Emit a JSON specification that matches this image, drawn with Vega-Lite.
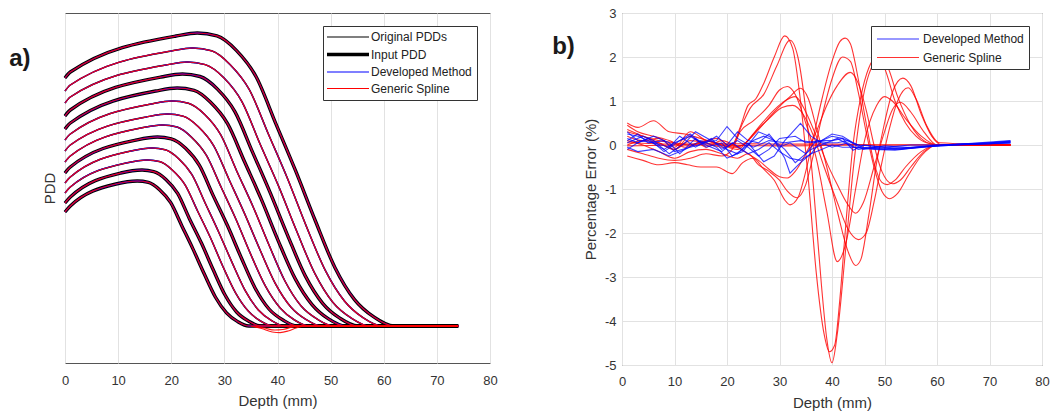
{
  "$schema": "https://vega.github.io/schema/vega-lite/v6.json",
  "background": "white",
  "padding": {"left": 8, "top": 6, "right": 0, "bottom": 0},
  "spacing": 53,
  "config": {
    "font": "Liberation Sans",
    "view": {"stroke": "#555555", "strokeWidth": 1},
    "axis": {"labelFontSize": 13, "titleFontSize": 15, "labelColor": "#333333", "titleColor": "#333333", "gridColor": "#e2e2e2", "domain": false, "ticks": false, "titleFontWeight": "normal", "labelFlush": false, "labelOverlap": false},
    "legend": {"labelFontSize": 12, "labelColor": "#222222", "strokeColor": "#333333", "fillColor": "white", "padding": 5, "symbolType": "M-3,0H3", "symbolSize": 196, "symbolOffset": 14, "symbolStrokeWidth": 1.2, "labelOffset": 17, "rowPadding": 4.5, "orient": "top-right", "offset": 13}
  },
  "datasets": {
    "pdd": [
      {"c":0,"d":0,"v":151},{"c":0,"d":1,"v":157},{"c":0,"d":9.6,"v":179},{"c":0,"d":13.6,"v":182},{"c":0,"d":15.7,"v":180.6},{"c":0,"d":17.8,"v":173.3},{"c":0,"d":19.9,"v":160.3},{"c":0,"d":22,"v":137.1},{"c":0,"d":24.1,"v":113.9},{"c":0,"d":26.2,"v":89.2},{"c":0,"d":28.3,"v":66},{"c":0,"d":30.4,"v":50.1},{"c":0,"d":32.5,"v":41.4},{"c":0,"d":34.6,"v":37},{"c":0,"d":74,"v":37},
      {"c":1,"d":0,"v":160},{"c":1,"d":1,"v":166},{"c":1,"d":10.5,"v":190},{"c":1,"d":14.5,"v":193},{"c":1,"d":16.7,"v":191.4},{"c":1,"d":19,"v":183.6},{"c":1,"d":21.2,"v":169.6},{"c":1,"d":23.4,"v":144.6},{"c":1,"d":25.7,"v":119.7},{"c":1,"d":27.9,"v":93.2},{"c":1,"d":30.1,"v":68.2},{"c":1,"d":32.3,"v":51},{"c":1,"d":34.6,"v":41.7},{"c":1,"d":36.8,"v":37},{"c":1,"d":74,"v":37},
      {"c":2,"d":0,"v":170},{"c":2,"d":1,"v":176},{"c":2,"d":11.5,"v":200},{"c":2,"d":15.5,"v":203},{"c":2,"d":17.9,"v":201.3},{"c":2,"d":20.2,"v":193},{"c":2,"d":22.6,"v":178.1},{"c":2,"d":25,"v":151.5},{"c":2,"d":27.4,"v":125},{"c":2,"d":29.7,"v":96.8},{"c":2,"d":32.1,"v":70.2},{"c":2,"d":34.5,"v":51.9},{"c":2,"d":36.8,"v":42},{"c":2,"d":39.2,"v":37},{"c":2,"d":74,"v":37},
      {"c":3,"d":0,"v":180},{"c":3,"d":1,"v":186},{"c":3,"d":12.4,"v":212},{"c":3,"d":16.4,"v":215},{"c":3,"d":18.9,"v":213.2},{"c":3,"d":21.4,"v":204.3},{"c":3,"d":23.9,"v":188.3},{"c":3,"d":26.4,"v":159.8},{"c":3,"d":28.9,"v":131.3},{"c":3,"d":31.4,"v":101.1},{"c":3,"d":33.9,"v":72.6},{"c":3,"d":36.4,"v":53},{"c":3,"d":38.9,"v":42.3},{"c":3,"d":41.4,"v":37},{"c":3,"d":74,"v":37},
      {"c":4,"d":0,"v":190},{"c":4,"d":1,"v":196},{"c":4,"d":13.4,"v":223},{"c":4,"d":17.4,"v":226},{"c":4,"d":20,"v":224.1},{"c":4,"d":22.7,"v":214.7},{"c":4,"d":25.3,"v":197.6},{"c":4,"d":27.9,"v":167.4},{"c":4,"d":30.6,"v":137.2},{"c":4,"d":33.2,"v":105},{"c":4,"d":35.8,"v":74.8},{"c":4,"d":38.4,"v":54},{"c":4,"d":41.1,"v":42.7},{"c":4,"d":43.7,"v":37},{"c":4,"d":74,"v":37},
      {"c":5,"d":0,"v":201},{"c":5,"d":1,"v":207},{"c":5,"d":14.3,"v":235},{"c":5,"d":18.3,"v":238},{"c":5,"d":21.1,"v":236},{"c":5,"d":23.8,"v":225.9},{"c":5,"d":26.6,"v":207.8},{"c":5,"d":29.4,"v":175.7},{"c":5,"d":32.2,"v":143.5},{"c":5,"d":34.9,"v":109.4},{"c":5,"d":37.7,"v":77.2},{"c":5,"d":40.5,"v":55.1},{"c":5,"d":43.2,"v":43},{"c":5,"d":46,"v":37},{"c":5,"d":74,"v":37},
      {"c":6,"d":0,"v":212},{"c":6,"d":1,"v":218},{"c":6,"d":15.3,"v":246},{"c":6,"d":19.3,"v":249},{"c":6,"d":22.2,"v":246.9},{"c":6,"d":25.1,"v":236.3},{"c":6,"d":28,"v":217.2},{"c":6,"d":30.9,"v":183.3},{"c":6,"d":33.8,"v":149.4},{"c":6,"d":36.7,"v":113.3},{"c":6,"d":39.6,"v":79.4},{"c":6,"d":42.5,"v":56.1},{"c":6,"d":45.4,"v":43.4},{"c":6,"d":48.3,"v":37},{"c":6,"d":74,"v":37},
      {"c":7,"d":0,"v":223},{"c":7,"d":1,"v":229},{"c":7,"d":16.2,"v":259},{"c":7,"d":20.2,"v":262},{"c":7,"d":23.2,"v":259.8},{"c":7,"d":26.3,"v":248.5},{"c":7,"d":29.3,"v":228.3},{"c":7,"d":32.3,"v":192.3},{"c":7,"d":35.4,"v":156.3},{"c":7,"d":38.4,"v":118},{"c":7,"d":41.4,"v":82},{"c":7,"d":44.4,"v":57.3},{"c":7,"d":47.5,"v":43.8},{"c":7,"d":50.5,"v":37},{"c":7,"d":74,"v":37},
      {"c":8,"d":0,"v":234},{"c":8,"d":1,"v":240},{"c":8,"d":17.1,"v":272},{"c":8,"d":21.1,"v":275},{"c":8,"d":24.3,"v":272.6},{"c":8,"d":27.4,"v":260.7},{"c":8,"d":30.6,"v":239.3},{"c":8,"d":33.8,"v":201.2},{"c":8,"d":37,"v":163.1},{"c":8,"d":40.1,"v":122.7},{"c":8,"d":43.3,"v":84.6},{"c":8,"d":46.5,"v":58.4},{"c":8,"d":49.6,"v":44.1},{"c":8,"d":52.8,"v":37},{"c":8,"d":74,"v":37},
      {"c":9,"d":0,"v":247},{"c":9,"d":1,"v":253},{"c":9,"d":18.1,"v":286},{"c":9,"d":22.1,"v":289},{"c":9,"d":25.4,"v":286.5},{"c":9,"d":28.7,"v":273.9},{"c":9,"d":32,"v":251.2},{"c":9,"d":35.3,"v":210.9},{"c":9,"d":38.6,"v":170.6},{"c":9,"d":41.9,"v":127.7},{"c":9,"d":45.2,"v":87.4},{"c":9,"d":48.5,"v":59.7},{"c":9,"d":51.8,"v":44.6},{"c":9,"d":55.1,"v":37},{"c":9,"d":74,"v":37},
      {"c":10,"d":0,"v":260},{"c":10,"d":1,"v":266},{"c":10,"d":19,"v":298},{"c":10,"d":23,"v":301},{"c":10,"d":26.4,"v":298.4},{"c":10,"d":29.9,"v":285.2},{"c":10,"d":33.3,"v":261.4},{"c":10,"d":36.7,"v":219.2},{"c":10,"d":40.2,"v":176.9},{"c":10,"d":43.6,"v":132},{"c":10,"d":47,"v":89.8},{"c":10,"d":50.4,"v":60.8},{"c":10,"d":53.9,"v":44.9},{"c":10,"d":57.3,"v":37},{"c":10,"d":74,"v":37},
      {"c":11,"d":0,"v":272},{"c":11,"d":1,"v":278},{"c":11,"d":20,"v":312},{"c":11,"d":24,"v":315},{"c":11,"d":27.6,"v":312.2},{"c":11,"d":31.1,"v":298.3},{"c":11,"d":34.7,"v":273.3},{"c":11,"d":38.3,"v":228.8},{"c":11,"d":41.9,"v":184.3},{"c":11,"d":45.4,"v":137.1},{"c":11,"d":49,"v":92.6},{"c":11,"d":52.6,"v":62},{"c":11,"d":56.1,"v":45.3},{"c":11,"d":59.7,"v":37},{"c":11,"d":74,"v":37},
      {"c":12,"d":0,"v":285},{"c":12,"d":1,"v":291},{"c":12,"d":20.9,"v":327},{"c":12,"d":24.9,"v":330},{"c":12,"d":28.6,"v":327.1},{"c":12,"d":32.3,"v":312.4},{"c":12,"d":36,"v":286},{"c":12,"d":39.7,"v":239.2},{"c":12,"d":43.4,"v":192.3},{"c":12,"d":47.1,"v":142.5},{"c":12,"d":50.8,"v":95.6},{"c":12,"d":54.5,"v":63.4},{"c":12,"d":58.2,"v":45.8},{"c":12,"d":61.9,"v":37},{"c":12,"d":74,"v":37}
    ],
    "dip": [
      {"c":1,"d":35,"v":37},{"c":1,"d":37,"v":34.5},{"c":1,"d":39,"v":31},{"c":1,"d":40.5,"v":30.4},{"c":1,"d":42,"v":32},{"c":1,"d":43.5,"v":35},{"c":1,"d":45,"v":37},
      {"c":2,"d":35.5,"v":37},{"c":2,"d":37.5,"v":35},{"c":2,"d":39.5,"v":33},{"c":2,"d":41,"v":33.5},{"c":2,"d":42.5,"v":35.5},{"c":2,"d":44,"v":37}
    ],
    "red": [
      {"c":0,"d":1,"e":0.05},{"c":0,"d":10,"e":0.02},{"c":0,"d":20,"e":0.03},{"c":0,"d":30,"e":0.02},{"c":0,"d":40,"e":0.02},{"c":0,"d":50,"e":0},{"c":0,"d":60,"e":0},{"c":0,"d":74,"e":0},
      {"c":10,"d":1,"e":-0.02},{"c":10,"d":15,"e":0},{"c":10,"d":30,"e":-0.02},{"c":10,"d":45,"e":0},{"c":10,"d":74,"e":0.01},
      {"c":1,"d":1,"e":0.35},{"c":1,"d":4,"e":0.2},{"c":1,"d":7,"e":0.05},{"c":1,"d":10,"e":-0.1},{"c":1,"d":13,"e":0.1},{"c":1,"d":16,"e":0.05},{"c":1,"d":19,"e":-0.05},{"c":1,"d":21,"e":0},{"c":1,"d":22.5,"e":0.4},{"c":1,"d":24,"e":0.9},{"c":1,"d":25.5,"e":1.05},{"c":1,"d":27,"e":1.4},{"c":1,"d":29,"e":2.0},{"c":1,"d":31,"e":2.48},{"c":1,"d":32.5,"e":2.2},{"c":1,"d":34,"e":1.0},{"c":1,"d":35.5,"e":-0.8},{"c":1,"d":37,"e":-2.9},{"c":1,"d":38.5,"e":-4.3},{"c":1,"d":39.5,"e":-4.7},{"c":1,"d":40.5,"e":-4.55},{"c":1,"d":41.5,"e":-3.5},{"c":1,"d":42.5,"e":-2.0},{"c":1,"d":44,"e":0},{"c":1,"d":45.5,"e":1.1},{"c":1,"d":47,"e":1.75},{"c":1,"d":48.5,"e":2.0},{"c":1,"d":50,"e":1.75},{"c":1,"d":52,"e":1.0},{"c":1,"d":54,"e":0.5},{"c":1,"d":56,"e":0.2},{"c":1,"d":58,"e":0.05},{"c":1,"d":61,"e":0},{"c":1,"d":74,"e":0},
      {"c":2,"d":1,"e":0.5},{"c":2,"d":3,"e":0.4},{"c":2,"d":6,"e":0.55},{"c":2,"d":9,"e":0.3},{"c":2,"d":12,"e":0.25},{"c":2,"d":15,"e":0.15},{"c":2,"d":18,"e":0.05},{"c":2,"d":21,"e":0},{"c":2,"d":23,"e":0.5},{"c":2,"d":24.5,"e":0.85},{"c":2,"d":27,"e":1.15},{"c":2,"d":29.5,"e":1.8},{"c":2,"d":32,"e":2.38},{"c":2,"d":33.5,"e":2.0},{"c":2,"d":35,"e":0.8},{"c":2,"d":36.5,"e":-1.0},{"c":2,"d":38,"e":-3.2},{"c":2,"d":39,"e":-4.4},{"c":2,"d":40,"e":-4.95},{"c":2,"d":41,"e":-4.3},{"c":2,"d":42.5,"e":-2.5},{"c":2,"d":44,"e":-0.6},{"c":2,"d":45.5,"e":0.8},{"c":2,"d":47,"e":1.6},{"c":2,"d":49,"e":1.95},{"c":2,"d":50.5,"e":1.8},{"c":2,"d":52.5,"e":1.1},{"c":2,"d":55,"e":0.45},{"c":2,"d":57.5,"e":0.1},{"c":2,"d":60,"e":0},{"c":2,"d":74,"e":0},
      {"c":3,"d":1,"e":-0.1},{"c":3,"d":4,"e":-0.2},{"c":3,"d":7,"e":-0.3},{"c":3,"d":10,"e":-0.35},{"c":3,"d":13,"e":-0.3},{"c":3,"d":16,"e":-0.2},{"c":3,"d":19,"e":-0.25},{"c":3,"d":21,"e":-0.1},{"c":3,"d":22.5,"e":0.3},{"c":3,"d":25,"e":0.55},{"c":3,"d":28,"e":0.9},{"c":3,"d":30,"e":1.25},{"c":3,"d":31.5,"e":1.33},{"c":3,"d":33,"e":1.15},{"c":3,"d":35,"e":0.5},{"c":3,"d":37,"e":-0.3},{"c":3,"d":39,"e":-1.5},{"c":3,"d":41,"e":-2.65},{"c":3,"d":42.5,"e":-2.3},{"c":3,"d":44.5,"e":-1.0},{"c":3,"d":46,"e":0},{"c":3,"d":48.5,"e":0.9},{"c":3,"d":50,"e":1.1},{"c":3,"d":51.5,"e":1.0},{"c":3,"d":54,"e":0.6},{"c":3,"d":57,"e":0.2},{"c":3,"d":60,"e":0},{"c":3,"d":74,"e":0},
      {"c":4,"d":1,"e":0.2},{"c":4,"d":4,"e":0.1},{"c":4,"d":7,"e":0.15},{"c":4,"d":10,"e":-0.05},{"c":4,"d":13,"e":0.3},{"c":4,"d":16,"e":0.1},{"c":4,"d":19,"e":0},{"c":4,"d":22,"e":-0.1},{"c":4,"d":24,"e":0.1},{"c":4,"d":26,"e":0.35},{"c":4,"d":29,"e":0.75},{"c":4,"d":32,"e":1.1},{"c":4,"d":34,"e":1.29},{"c":4,"d":35.5,"e":1.05},{"c":4,"d":37,"e":0.4},{"c":4,"d":39,"e":-0.5},{"c":4,"d":41,"e":-1.5},{"c":4,"d":43,"e":-2.4},{"c":4,"d":44.5,"e":-2.74},{"c":4,"d":45.5,"e":-2.6},{"c":4,"d":47,"e":-1.6},{"c":4,"d":48.5,"e":-0.4},{"c":4,"d":50,"e":0.5},{"c":4,"d":51.5,"e":1.2},{"c":4,"d":53.5,"e":1.52},{"c":4,"d":55,"e":1.35},{"c":4,"d":57,"e":0.7},{"c":4,"d":59,"e":0.2},{"c":4,"d":61,"e":0},{"c":4,"d":74,"e":0},
      {"c":5,"d":1,"e":0.3},{"c":5,"d":4,"e":0.2},{"c":5,"d":7,"e":0.1},{"c":5,"d":10,"e":0.05},{"c":5,"d":13,"e":0},{"c":5,"d":16,"e":0.1},{"c":5,"d":19,"e":0},{"c":5,"d":22,"e":-0.05},{"c":5,"d":24,"e":0.1},{"c":5,"d":26,"e":0.4},{"c":5,"d":29,"e":0.8},{"c":5,"d":31,"e":1.0},{"c":5,"d":33,"e":1.1},{"c":5,"d":35,"e":0.75},{"c":5,"d":37,"e":0.2},{"c":5,"d":39,"e":-0.4},{"c":5,"d":41,"e":-0.9},{"c":5,"d":43,"e":-1.35},{"c":5,"d":44.5,"e":-1.55},{"c":5,"d":46,"e":-1.3},{"c":5,"d":48,"e":-0.5},{"c":5,"d":50,"e":0.3},{"c":5,"d":51.5,"e":0.8},{"c":5,"d":53,"e":0.97},{"c":5,"d":55,"e":0.75},{"c":5,"d":57.5,"e":0.3},{"c":5,"d":60,"e":0},{"c":5,"d":74,"e":0},
      {"c":6,"d":1,"e":0.45},{"c":6,"d":3,"e":0.3},{"c":6,"d":6,"e":0.2},{"c":6,"d":9,"e":0.1},{"c":6,"d":12,"e":-0.05},{"c":6,"d":15,"e":0.05},{"c":6,"d":18,"e":0.15},{"c":6,"d":21,"e":-0.05},{"c":6,"d":23,"e":0},{"c":6,"d":25,"e":0.25},{"c":6,"d":28,"e":0.6},{"c":6,"d":30.5,"e":0.85},{"c":6,"d":32.5,"e":0.9},{"c":6,"d":34.5,"e":0.7},{"c":6,"d":36.5,"e":0.2},{"c":6,"d":38.5,"e":-0.5},{"c":6,"d":41,"e":-1.3},{"c":6,"d":43,"e":-1.9},{"c":6,"d":45,"e":-2.15},{"c":6,"d":46.5,"e":-2.0},{"c":6,"d":48,"e":-1.3},{"c":6,"d":49.5,"e":-0.4},{"c":6,"d":51,"e":0.4},{"c":6,"d":52.5,"e":1.0},{"c":6,"d":54.5,"e":1.3},{"c":6,"d":56,"e":1.05},{"c":6,"d":58,"e":0.45},{"c":6,"d":60.5,"e":0.05},{"c":6,"d":74,"e":0},
      {"c":7,"d":1,"e":-0.25},{"c":7,"d":4,"e":-0.35},{"c":7,"d":7,"e":-0.45},{"c":7,"d":10,"e":-0.4},{"c":7,"d":12.5,"e":-0.45},{"c":7,"d":15,"e":-0.5},{"c":7,"d":18,"e":-0.5},{"c":7,"d":21,"e":-0.65},{"c":7,"d":23,"e":-0.4},{"c":7,"d":25,"e":-0.3},{"c":7,"d":27,"e":-0.55},{"c":7,"d":29,"e":-0.8},{"c":7,"d":31,"e":-1.25},{"c":7,"d":32,"e":-1.36},{"c":7,"d":33.5,"e":-1.2},{"c":7,"d":35,"e":-0.6},{"c":7,"d":36.5,"e":0.2},{"c":7,"d":38,"e":1.0},{"c":7,"d":40,"e":1.9},{"c":7,"d":41.5,"e":2.35},{"c":7,"d":42.5,"e":2.43},{"c":7,"d":43.5,"e":2.3},{"c":7,"d":45,"e":1.5},{"c":7,"d":46.5,"e":0.5},{"c":7,"d":48,"e":-0.4},{"c":7,"d":49.5,"e":-0.85},{"c":7,"d":50.5,"e":-0.9},{"c":7,"d":52,"e":-0.8},{"c":7,"d":54,"e":-0.5},{"c":7,"d":57,"e":-0.15},{"c":7,"d":60,"e":0},{"c":7,"d":74,"e":0},
      {"c":8,"d":1,"e":0.1},{"c":8,"d":4,"e":0},{"c":8,"d":7,"e":-0.15},{"c":8,"d":10,"e":-0.3},{"c":8,"d":13,"e":-0.15},{"c":8,"d":16,"e":-0.1},{"c":8,"d":19,"e":-0.2},{"c":8,"d":22,"e":-0.3},{"c":8,"d":24,"e":-0.2},{"c":8,"d":26,"e":-0.45},{"c":8,"d":28,"e":-0.6},{"c":8,"d":30,"e":-0.8},{"c":8,"d":31.5,"e":-1.05},{"c":8,"d":33.3,"e":-1.2},{"c":8,"d":35,"e":-0.9},{"c":8,"d":36.5,"e":-0.2},{"c":8,"d":38,"e":0.6},{"c":8,"d":40,"e":1.5},{"c":8,"d":42,"e":2.0},{"c":8,"d":43.5,"e":1.9},{"c":8,"d":45,"e":1.2},{"c":8,"d":46.5,"e":0.3},{"c":8,"d":48,"e":-0.5},{"c":8,"d":49.5,"e":-1.05},{"c":8,"d":51,"e":-1.22},{"c":8,"d":52.5,"e":-1.1},{"c":8,"d":54.5,"e":-0.7},{"c":8,"d":57,"e":-0.25},{"c":8,"d":60,"e":0},{"c":8,"d":74,"e":0},
      {"c":9,"d":1,"e":0},{"c":9,"d":4,"e":0.1},{"c":9,"d":7,"e":0.05},{"c":9,"d":10,"e":-0.1},{"c":9,"d":13,"e":0.2},{"c":9,"d":16,"e":-0.05},{"c":9,"d":19,"e":0.1},{"c":9,"d":22,"e":-0.05},{"c":9,"d":24,"e":-0.2},{"c":9,"d":26,"e":-0.35},{"c":9,"d":28,"e":-0.55},{"c":9,"d":30,"e":-0.72},{"c":9,"d":31.5,"e":-0.75},{"c":9,"d":33,"e":-0.6},{"c":9,"d":35,"e":-0.2},{"c":9,"d":37,"e":0.3},{"c":9,"d":39,"e":0.9},{"c":9,"d":41,"e":1.35},{"c":9,"d":43.5,"e":1.65},{"c":9,"d":45,"e":1.4},{"c":9,"d":46.5,"e":0.8},{"c":9,"d":48,"e":0},{"c":9,"d":49.5,"e":-0.6},{"c":9,"d":51.5,"e":-0.88},{"c":9,"d":53,"e":-0.8},{"c":9,"d":55,"e":-0.5},{"c":9,"d":57.5,"e":-0.15},{"c":9,"d":60,"e":0},{"c":9,"d":74,"e":0}
    ],
    "blue": [
      {"c":1,"d":1,"e":0.25},{"c":1,"d":3,"e":0.2},{"c":1,"d":5,"e":0.1},{"c":1,"d":8,"e":-0.1},{"c":1,"d":10,"e":0.05},{"c":1,"d":13,"e":0.2},{"c":1,"d":15,"e":0.05},{"c":1,"d":18,"e":0.1},{"c":1,"d":20,"e":0.42},{"c":1,"d":22,"e":0.15},{"c":1,"d":25,"e":-0.05},{"c":1,"d":28,"e":0.1},{"c":1,"d":31,"e":0.05},{"c":1,"d":34,"e":0.1},{"c":1,"d":37,"e":0.05},{"c":1,"d":40,"e":0.2},{"c":1,"d":42,"e":0.15},{"c":1,"d":45,"e":0},{"c":1,"d":50,"e":-0.05},{"c":1,"d":55,"e":0},{"c":1,"d":60,"e":0},{"c":1,"d":65,"e":0.02},{"c":1,"d":70,"e":0.03},{"c":1,"d":74,"e":0.05},
      {"c":2,"d":1,"e":0.15},{"c":2,"d":3,"e":0.05},{"c":2,"d":5,"e":0.15},{"c":2,"d":8,"e":-0.15},{"c":2,"d":11,"e":0.1},{"c":2,"d":13,"e":0.25},{"c":2,"d":16,"e":-0.05},{"c":2,"d":19,"e":0.05},{"c":2,"d":21,"e":-0.25},{"c":2,"d":23,"e":-0.1},{"c":2,"d":25,"e":0.1},{"c":2,"d":27,"e":0.2},{"c":2,"d":29,"e":0.1},{"c":2,"d":31,"e":-0.3},{"c":2,"d":32,"e":-0.64},{"c":2,"d":34,"e":-0.4},{"c":2,"d":36,"e":-0.2},{"c":2,"d":38,"e":0.1},{"c":2,"d":40,"e":0.25},{"c":2,"d":42,"e":0.2},{"c":2,"d":44,"e":0.05},{"c":2,"d":46,"e":-0.05},{"c":2,"d":50,"e":-0.1},{"c":2,"d":55,"e":-0.05},{"c":2,"d":60,"e":0},{"c":2,"d":70,"e":0.05},{"c":2,"d":74,"e":0.08},
      {"c":3,"d":1,"e":0.05},{"c":3,"d":4,"e":0.2},{"c":3,"d":6,"e":0.1},{"c":3,"d":9,"e":-0.2},{"c":3,"d":12,"e":0.05},{"c":3,"d":14,"e":0.3},{"c":3,"d":17,"e":0.1},{"c":3,"d":20,"e":-0.1},{"c":3,"d":22,"e":-0.2},{"c":3,"d":24,"e":0.05},{"c":3,"d":27,"e":-0.38},{"c":3,"d":29,"e":-0.25},{"c":3,"d":31,"e":0.1},{"c":3,"d":34,"e":0.49},{"c":3,"d":36,"e":0.2},{"c":3,"d":38,"e":0.05},{"c":3,"d":40,"e":-0.05},{"c":3,"d":43,"e":0.05},{"c":3,"d":45,"e":-0.1},{"c":3,"d":48,"e":-0.05},{"c":3,"d":53,"e":-0.1},{"c":3,"d":58,"e":-0.03},{"c":3,"d":65,"e":0.02},{"c":3,"d":74,"e":0.06},
      {"c":4,"d":1,"e":-0.05},{"c":4,"d":3,"e":-0.15},{"c":4,"d":6,"e":-0.1},{"c":4,"d":9,"e":-0.25},{"c":4,"d":12,"e":-0.1},{"c":4,"d":15,"e":0.1},{"c":4,"d":18,"e":-0.05},{"c":4,"d":20,"e":-0.3},{"c":4,"d":23,"e":-0.15},{"c":4,"d":26,"e":0.3},{"c":4,"d":28,"e":0.2},{"c":4,"d":31,"e":-0.1},{"c":4,"d":33,"e":-0.4},{"c":4,"d":36,"e":-0.1},{"c":4,"d":38,"e":0},{"c":4,"d":41,"e":0.15},{"c":4,"d":44,"e":-0.05},{"c":4,"d":48,"e":-0.1},{"c":4,"d":52,"e":-0.12},{"c":4,"d":57,"e":-0.05},{"c":4,"d":65,"e":0.01},{"c":4,"d":74,"e":0.04},
      {"c":5,"d":1,"e":0.3},{"c":5,"d":3,"e":0.1},{"c":5,"d":6,"e":0.05},{"c":5,"d":9,"e":-0.05},{"c":5,"d":11,"e":0.2},{"c":5,"d":14,"e":-0.05},{"c":5,"d":17,"e":0.15},{"c":5,"d":19,"e":-0.1},{"c":5,"d":22,"e":0.1},{"c":5,"d":24,"e":-0.05},{"c":5,"d":26,"e":-0.25},{"c":5,"d":28,"e":-0.1},{"c":5,"d":30,"e":0.15},{"c":5,"d":33,"e":0.2},{"c":5,"d":35,"e":0.05},{"c":5,"d":38,"e":0.1},{"c":5,"d":40,"e":0.1},{"c":5,"d":42,"e":0.15},{"c":5,"d":44,"e":-0.12},{"c":5,"d":46,"e":0},{"c":5,"d":50,"e":-0.05},{"c":5,"d":55,"e":-0.08},{"c":5,"d":60,"e":-0.02},{"c":5,"d":70,"e":0.03},{"c":5,"d":74,"e":0.07},
      {"c":6,"d":1,"e":0.1},{"c":6,"d":3,"e":0.25},{"c":6,"d":5,"e":0.05},{"c":6,"d":8,"e":0.1},{"c":6,"d":10,"e":-0.15},{"c":6,"d":13,"e":-0.05},{"c":6,"d":16,"e":0.05},{"c":6,"d":18,"e":0.2},{"c":6,"d":20,"e":0},{"c":6,"d":22,"e":0.3},{"c":6,"d":24,"e":0.1},{"c":6,"d":26,"e":0.05},{"c":6,"d":28,"e":0.25},{"c":6,"d":30,"e":-0.05},{"c":6,"d":32,"e":0.05},{"c":6,"d":35,"e":-0.2},{"c":6,"d":37,"e":0.1},{"c":6,"d":39,"e":0.05},{"c":6,"d":41,"e":0.05},{"c":6,"d":43,"e":0.1},{"c":6,"d":46,"e":-0.1},{"c":6,"d":50,"e":-0.02},{"c":6,"d":55,"e":-0.06},{"c":6,"d":62,"e":0},{"c":6,"d":74,"e":0.1},
      {"c":7,"d":1,"e":-0.1},{"c":7,"d":3,"e":0.05},{"c":7,"d":6,"e":0.2},{"c":7,"d":9,"e":0.05},{"c":7,"d":11,"e":-0.2},{"c":7,"d":14,"e":0.15},{"c":7,"d":16,"e":0},{"c":7,"d":19,"e":-0.15},{"c":7,"d":21,"e":0.05},{"c":7,"d":24,"e":-0.2},{"c":7,"d":26,"e":-0.1},{"c":7,"d":28,"e":0.05},{"c":7,"d":30,"e":-0.15},{"c":7,"d":32,"e":-0.3},{"c":7,"d":34,"e":-0.35},{"c":7,"d":36,"e":-0.2},{"c":7,"d":38,"e":-0.1},{"c":7,"d":40,"e":0},{"c":7,"d":42,"e":-0.05},{"c":7,"d":45,"e":-0.05},{"c":7,"d":48,"e":-0.08},{"c":7,"d":52,"e":-0.1},{"c":7,"d":56,"e":-0.05},{"c":7,"d":62,"e":0},{"c":7,"d":68,"e":0.03},{"c":7,"d":74,"e":0.09}
    ]
  },
  "hconcat": [
    {
      "width": 425,
      "height": 350,
      "layer": [
        {
          "data": {"name": "pdd"},
          "mark": {"type": "line", "interpolate": "monotone", "strokeWidth": 1.5},
          "encoding": {
            "x": {"field": "d", "type": "quantitative", "scale": {"domain": [0, 80], "nice": false}, "axis": {"title": "Depth (mm)", "values": [0,10,20,30,40,50,60,70,80], "labelPadding": 11, "titlePadding": 6}},
            "y": {"field": "v", "type": "quantitative", "scale": {"domain": [0, 350], "nice": false, "zero": false}, "axis": {"title": "PDD", "labels": false, "grid": false, "titlePadding": 8}},
            "detail": {"field": "c"},
            "color": {"datum": "Original PDDs", "scale": {"domain": ["Original PDDs", "Input PDD", "Developed Method", "Generic Spline"], "range": ["#000000", "#000000", "#0000ff", "#ff0000"]}, "legend": {"title": null, "encode": {"symbols": {"update": {"strokeWidth": {"signal": "datum.value === 'Input PDD' ? 3.5 : 1.2"}}}}}}
          }
        },
        {
          "data": {"name": "pdd"},
          "transform": [{"filter": {"field": "c", "oneOf": [0, 1, 4, 8, 9, 12]}}],
          "mark": {"type": "line", "interpolate": "monotone", "strokeWidth": 3.4},
          "encoding": {"x": {"field": "d", "type": "quantitative"}, "y": {"field": "v", "type": "quantitative"}, "detail": {"field": "c"}, "color": {"datum": "Input PDD"}}
        },
        {
          "data": {"name": "pdd"},
          "mark": {"type": "line", "interpolate": "monotone", "strokeWidth": 1.3},
          "encoding": {"x": {"field": "d", "type": "quantitative"}, "y": {"field": "v", "type": "quantitative"}, "detail": {"field": "c"}, "color": {"datum": "Developed Method"}}
        },
        {
          "data": {"name": "pdd"},
          "mark": {"type": "line", "interpolate": "monotone", "strokeWidth": 1.2, "opacity": 0.9},
          "encoding": {"x": {"field": "d", "type": "quantitative"}, "y": {"field": "v", "type": "quantitative"}, "detail": {"field": "c"}, "color": {"datum": "Generic Spline"}}
        },
        {
          "data": {"name": "dip"},
          "mark": {"type": "line", "interpolate": "monotone", "strokeWidth": 1.2, "opacity": 0.9},
          "encoding": {"x": {"field": "d", "type": "quantitative"}, "y": {"field": "v", "type": "quantitative"}, "detail": {"field": "c"}, "color": {"datum": "Generic Spline"}}
        },
        {
          "data": {"values": [{}]},
          "mark": {"type": "text", "text": "a)", "align": "left", "baseline": "middle", "fontSize": 24, "fontWeight": "bold", "color": "#1a1a1a", "clip": false},
          "encoding": {"x": {"datum": -10.5}, "y": {"datum": 304.5}}
        }
      ]
    },
    {
      "width": 420,
      "height": 352,
      "layer": [
        {
          "data": {"name": "red"},
          "mark": {"type": "line", "interpolate": "monotone", "strokeWidth": 1.1, "opacity": 0.8},
          "encoding": {
            "x": {"field": "d", "type": "quantitative", "scale": {"domain": [0, 80], "nice": false}, "axis": {"title": "Depth (mm)", "values": [0,10,20,30,40,50,60,70,80], "labelPadding": 10, "titlePadding": 7}},
            "y": {"field": "e", "type": "quantitative", "scale": {"domain": [-5, 3], "nice": false, "zero": false}, "axis": {"title": "Percentage Error (%)", "values": [-5,-4,-3,-2,-1,0,1,2,3], "labelExpr": "datum.value + ''", "labelPadding": 6, "titlePadding": 6}},
            "detail": {"field": "c"},
            "color": {"datum": "Generic Spline", "scale": {"domain": ["Developed Method", "Generic Spline"], "range": ["#0000ff", "#ff0000"]}, "legend": {"title": null}}
          }
        },
        {
          "data": {"name": "blue"},
          "mark": {"type": "line", "strokeWidth": 1.1, "opacity": 0.75},
          "encoding": {"x": {"field": "d", "type": "quantitative"}, "y": {"field": "e", "type": "quantitative"}, "detail": {"field": "c"}, "color": {"datum": "Developed Method"}}
        },
        {
          "data": {"values": [{}]},
          "mark": {"type": "text", "text": "b)", "align": "left", "baseline": "middle", "fontSize": 24, "fontWeight": "bold", "color": "#1a1a1a", "clip": false},
          "encoding": {"x": {"datum": -13.3}, "y": {"datum": 2.22}}
        }
      ]
    }
  ],
  "resolve": {"scale": {"color": "independent"}, "legend": {"color": "independent"}}
}
